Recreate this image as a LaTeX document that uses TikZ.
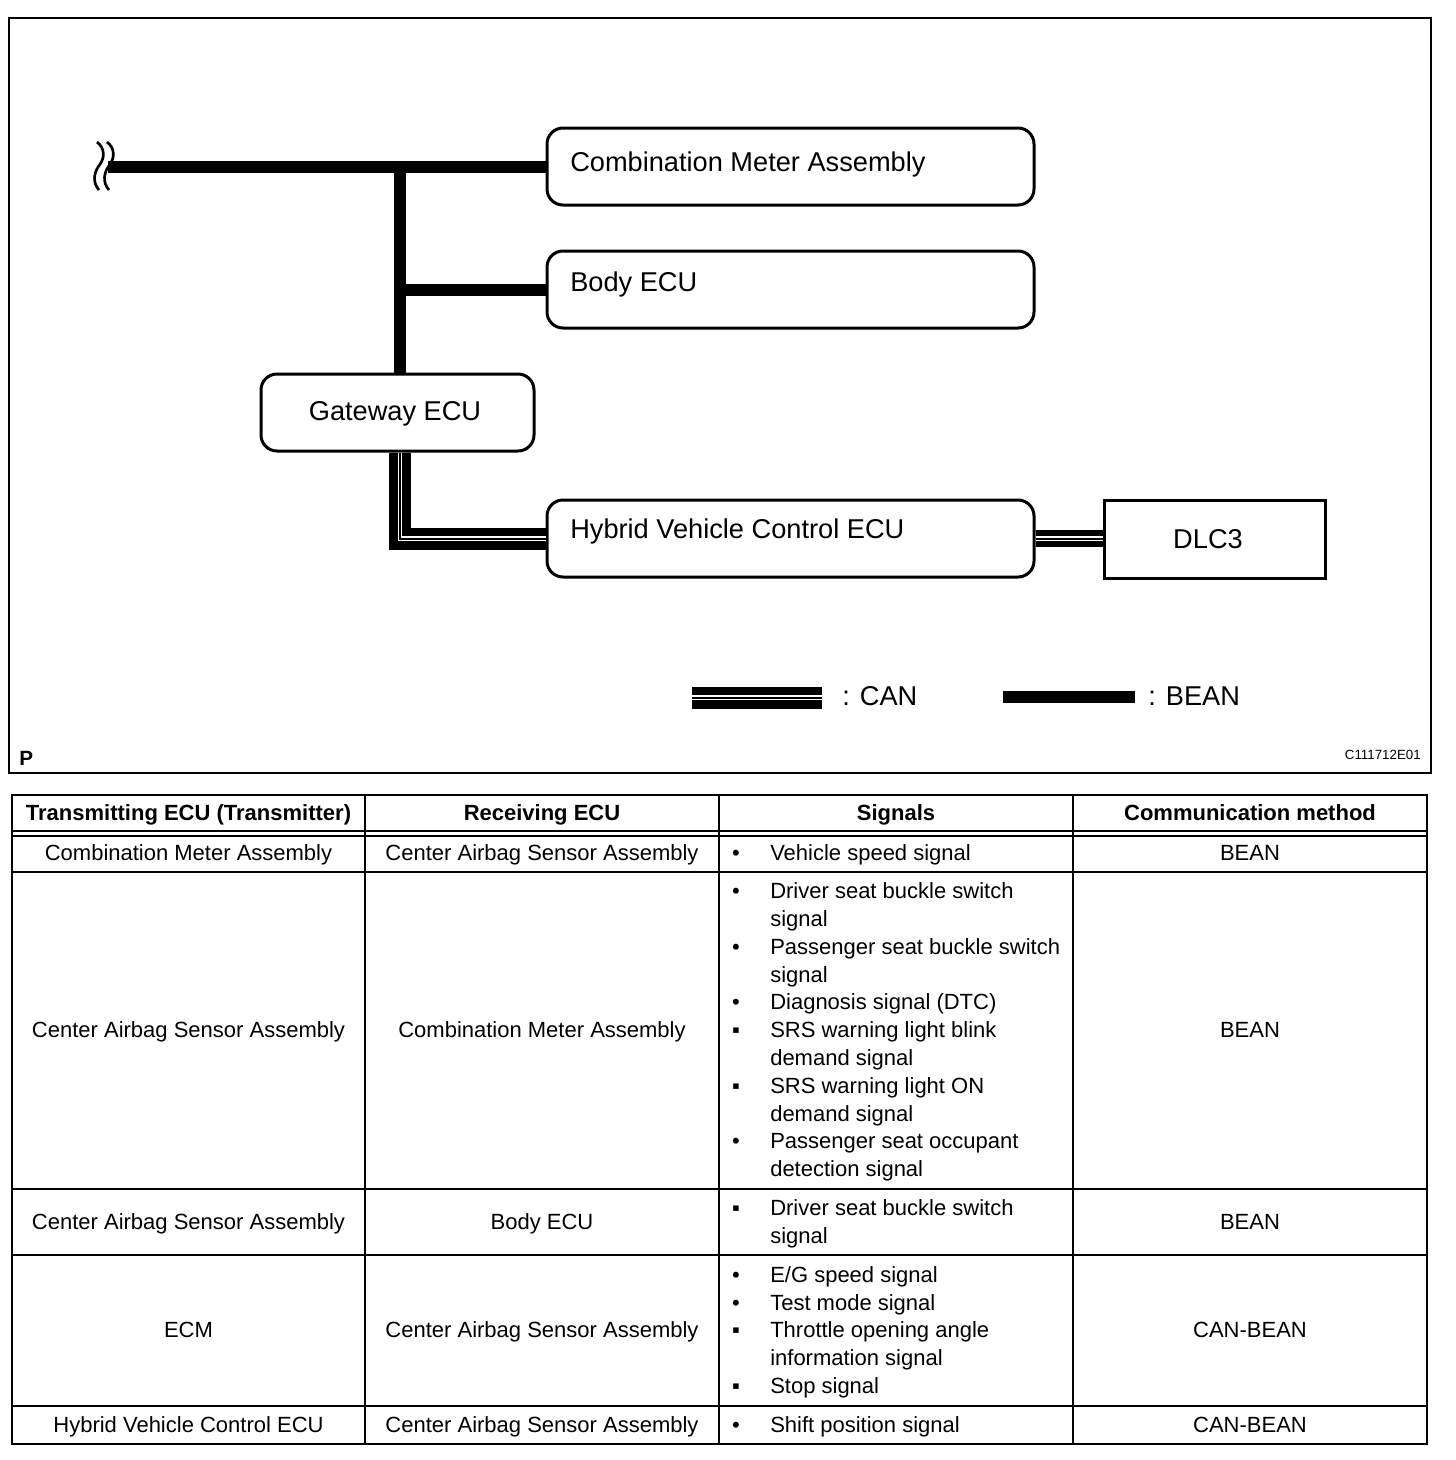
\documentclass[tikz,border=0pt]{standalone}
\usepackage{fontspec}
\setmainfont{Liberation Sans}
\usetikzlibrary{fit}
\begin{document}
\begin{tikzpicture}[x=0.75pt,y=-0.75pt,
  box/.style={draw, line width=2.25pt, rounded corners=12pt, inner sep=0pt},
  sqbox/.style={draw, line width=2.25pt, inner sep=0pt},
  bean/.style={line width=9pt},
  can/.style={line width=#1, postaction={draw=white, line width=3.6pt, postaction={draw=black, line width=1.5pt}}},
  can/.default=16.5pt,
  wave/.style={line width=2pt},
  lbl/.style={font=\fontsize{20.4}{24}\selectfont, inner sep=0pt},
  tt/.style={font=\fontsize{16.5}{20}\selectfont, inner sep=0pt, anchor=base},
  th/.style={font=\fontsize{16.5}{20}\selectfont\bfseries, inner sep=0pt, anchor=base},
  tl/.style={line width=2pt},
  tthin/.style={line width=1.5pt}
]
\useasboundingbox (0,0) rectangle (1456,1460);
% frame
\draw[line width=1.5pt] (9,18) rectangle (1431,773);
% boxes
\node[box, fit={(547,128) (1034,205)}] (cm) {};
\node[box, fit={(547,251) (1034,328)}] (body) {};
\node[box, fit={(261,374) (534,451)}] (gw) {};
\node[box, fit={(547,500) (1034,577)}] (hv) {};
\node[sqbox, fit={(1104,500) (1325,578)}] (dlc) {};
% labels
\node[lbl, anchor=base west] (cmt) at (570,171) {Combination Meter Assembly};
\node[lbl, anchor=base west] (bodyt) at (570,291) {Body ECU};
\node[lbl, anchor=base] (gwt) at (395,420) {Gateway ECU};
\node[lbl, anchor=base west] (hvt) at (570,538) {Hybrid Vehicle Control ECU};
\node[lbl, anchor=base] (dlct) at (1208,548) {DLC3};
% bus
\coordinate (brk) at (108,166.5);
\coordinate (bus) at (400,166.5);
\draw[wave] (97,142) .. controls (105,148) and (105,158) .. (99.5,165) .. controls (94,172) and (92,182) .. (99,190);
\draw[wave] (107,142) .. controls (115,148) and (115,158) .. (109.5,165) .. controls (104,172) and (102,182) .. (109,190);
\draw[bean] (brk) -- (brk -| cm.west);
\draw[bean] (bus) -- (bus |- gw.north);
\draw[bean] (bus |- body.west) -- (body.west);
\draw[can] (bus |- gw.south) |- (hv.west);
\draw[can=12.75pt] (hv.east) -- (hv.east -| dlc.west);
% legend
\coordinate (lc1) at (692,697.5);
\coordinate (lc2) at (822,697.5);
\coordinate (lb1) at (1003,696.5);
\coordinate (lb2) at (1135,696.5);
\draw[can] (lc1) -- (lc2);
\draw[bean] (lb1) -- (lb2);
\node[lbl, anchor=base west] (lcan) at (842,705) {: CAN};
\node[lbl, anchor=base west] (lbean) at (1148,705) {: BEAN};
\node[font=\fontsize{15.5}{18}\selectfont\bfseries, inner sep=0pt, anchor=base west] (pl) at (19,765) {P};
\node[font=\fontsize{10}{12}\selectfont, inner sep=0pt, anchor=base east] (code) at (1421,759) {C111712E01};
% table
\draw[tl] (12,795) rectangle (1427,1444);
\foreach \x in {365,719,1073} \draw[tl] (\x,795) -- (\x,1444);
\draw[tthin] (12,831) -- (1427,831);
\draw[tthin] (12,835.5) -- (1427,835.5);
\foreach \y in {872,1189,1255,1406} \draw[tl] (12,\y) -- (1427,\y);
% header
\node[th] (h1) at (188.5,820) {Transmitting ECU (Transmitter)};
\node[th] (h2) at (542,820) {Receiving ECU};
\node[th] (h3) at (896,820) {Signals};
\node[th] (h4) at (1250,820) {Communication method};
% columns 1,2,4
\foreach \y/\a/\b/\c [count=\i] in {
  852/{Combination Meter Assembly}/{Center Airbag Sensor Assembly}/BEAN,
  1029/{Center Airbag Sensor Assembly}/{Combination Meter Assembly}/BEAN,
  1221/{Center Airbag Sensor Assembly}/{Body ECU}/BEAN,
  1329/ECM/{Center Airbag Sensor Assembly}/CAN-BEAN,
  1424/{Hybrid Vehicle Control ECU}/{Center Airbag Sensor Assembly}/CAN-BEAN} {
  \node[tt] (ca\i) at (188.5,\y+8) {\a};
  \node[tt] (cb\i) at (542,\y+8) {\b};
  \node[tt] (cd\i) at (1250,\y+8) {\c};
}
% bullets
\foreach \y/\g [count=\i] in {852/•,890/•,946/•,1001/•,1029/▪,1085/▪,1140/•,1207/▪,1274/•,1302/•,1329/▪,1385/▪,1424/•} {
  \node[tt] (bu\i) at (736,\y+8) {\g};
}
% signal lines
\foreach \y/\t [count=\i] in {
  852/{Vehicle speed signal},
  890/{Driver seat buckle switch}, 918/{signal},
  946/{Passenger seat buckle switch}, 974/{signal},
  1001/{Diagnosis signal (DTC)},
  1029/{SRS warning light blink}, 1057/{demand signal},
  1085/{SRS warning light ON}, 1113/{demand signal},
  1140/{Passenger seat occupant}, 1168/{detection signal},
  1207/{Driver seat buckle switch}, 1235/{signal},
  1274/{E/G speed signal},
  1302/{Test mode signal},
  1329/{Throttle opening angle}, 1357/{information signal},
  1385/{Stop signal},
  1424/{Shift position signal}} {
  \node[tt, anchor=base west] (sg\i) at (770,\y+8) {\t};
}
\end{tikzpicture}
\end{document}
